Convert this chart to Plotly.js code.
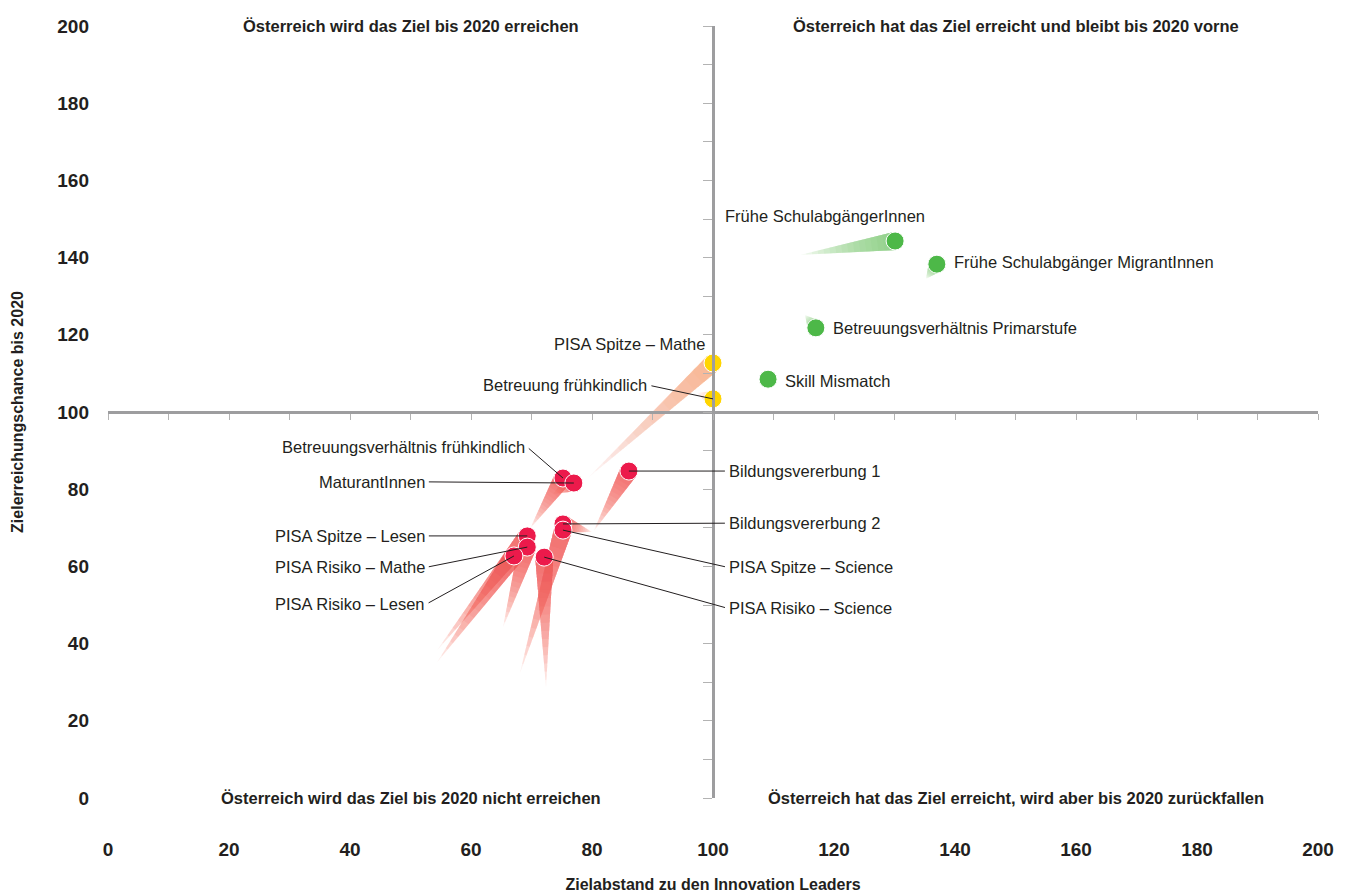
<!DOCTYPE html>
<html><head><meta charset="utf-8">
<script src="https://cdn.plot.ly/plotly-3.0.1.min.js"></script>
<style>html,body{margin:0;padding:0;background:#fff}#chart{width:1350px;height:893px}</style>
</head><body><div id="chart"></div>
<script>
// ---------------- data ----------------
const names = [
  'Frühe SchulabgängerInnen',
  'Frühe Schulabgänger MigrantInnen',
  'Betreuungsverhältnis Primarstufe',
  'Skill Mismatch',
  'PISA Spitze – Mathe',
  'Betreuung frühkindlich',
  'Betreuungsverhältnis frühkindlich',
  'MaturantInnen',
  'Bildungsvererbung 1',
  'Bildungsvererbung 2',
  'PISA Spitze – Science',
  'PISA Spitze – Lesen',
  'PISA Risiko – Mathe',
  'PISA Risiko – Lesen',
  'PISA Risiko – Science'
];
const groups = ['green','green','green','green','yellow','yellow','red','red','red','red','red','red','red','red','red'];
// Zielabstand (x) and Zielerreichungschance (y)
const xVals = [130.1, 137.0, 117.0, 109.1, 100.0, 100.0, 75.2, 77.0, 86.1, 75.2, 75.2, 69.3, 69.3, 67.1, 72.1];
const yVals = [144.3, 138.3, 121.8, 108.5, 112.7, 103.4, 82.9, 81.6, 84.7, 71.0, 69.4, 67.9, 65.0, 62.7, 62.4];
// end of the trend tail of each point
const tailX = [114.4, 135.2, 115.2, null, 79.3, 97.4, 69.8, 73.6, 80.3, 80.0, 68.1, 54.4, 65.3, 54.4, 72.4];
const tailY = [140.7, 134.5, 125.1, null, 82.9, 104.9, 69.9, 78.8, 69.2, 68.9, 32.4, 38.3, 44.3, 35.2, 28.5];
const xTicks = [0, 20, 40, 60, 80, 100, 120, 140, 160, 180, 200];
const yTicks = [0, 20, 40, 60, 80, 100, 120, 140, 160, 180, 200];
const quadrantLabels = [
  'Österreich wird das Ziel bis 2020 erreichen',
  'Österreich hat das Ziel erreicht und bleibt bis 2020 vorne',
  'Österreich wird das Ziel bis 2020 nicht erreichen',
  'Österreich hat das Ziel erreicht, wird aber bis 2020 zurückfallen'
];
const quadrantX = [50, 150, 50, 150];
const quadrantY = [200, 200, 0, 0];
const xTitle = 'Zielabstand zu den Innovation Leaders';
const yTitle = 'Zielerreichungschance bis 2020';

// ---------------- label placement (layout, in axis units) ----------------
const labelPlace = {
  'Frühe SchulabgängerInnen':          {ax:118.5, ay:150.8, anchor:'center', arrow:false},
  'Frühe Schulabgänger MigrantInnen':  {ax:139.5, ay:138.9, anchor:'left',   arrow:false},
  'Betreuungsverhältnis Primarstufe':  {ax:119.5, ay:121.8, anchor:'left',   arrow:false},
  'Skill Mismatch':                    {ax:111.6, ay:108.0, anchor:'left',   arrow:false},
  'PISA Spitze – Mathe':               {ax:99.0,  ay:117.6, anchor:'right',  arrow:false},
  'Betreuung frühkindlich':            {ax:89.5,  ay:106.9, anchor:'right',  arrow:true},
  'Betreuungsverhältnis frühkindlich': {ax:69.3,  ay:90.9,  anchor:'right',  arrow:true},
  'MaturantInnen':                     {ax:52.7,  ay:81.9,  anchor:'right',  arrow:true},
  'Bildungsvererbung 1':               {ax:102.3, ay:84.7,  anchor:'left',   arrow:true},
  'Bildungsvererbung 2':               {ax:102.3, ay:71.2,  anchor:'left',   arrow:true},
  'PISA Spitze – Science':             {ax:102.3, ay:59.8,  anchor:'left',   arrow:true},
  'PISA Spitze – Lesen':               {ax:52.7,  ay:67.9,  anchor:'right',  arrow:true},
  'PISA Risiko – Mathe':               {ax:52.7,  ay:59.8,  anchor:'right',  arrow:true},
  'PISA Risiko – Lesen':               {ax:52.7,  ay:50.3,  anchor:'right',  arrow:true},
  'PISA Risiko – Science':             {ax:102.3, ay:49.2,  anchor:'left',   arrow:true}
};

// ---------------- styles ----------------
const W = 1350, H = 893;
const M = {l:108, r:32, t:26, b:95};
const BOLD = '"Liberation Sans", Arial, Helvetica, sans-serif';
const REG = '"Liberation Sans", Arial, Helvetica, sans-serif';
const TXT = '#231f20';
const pointColor = {green:'#4db848', yellow:'#ffd500', red:'#ec1a4b'};
const tailBase = {green:[77,184,72], yellow:[252,180,70], red:[236,30,70]};
const tailTip  = {green:[160,215,150], yellow:[246,150,140], red:[246,120,100]};
const tailAlpha = {green:0.11, yellow:0.075, red:0.11};
const kx = (W - M.l - M.r) / 200, ky = (H - M.t - M.b) / 200;

const traces = [];
// tails: nested truncated wedges, giving a fade toward the tip
const R = 9, N = 16;
for (let i = 0; i < names.length; i++) {
  if (tailX[i] == null) continue;
  const x0 = xVals[i], y0 = yVals[i];
  const dxp = (tailX[i] - x0) * kx, dyp = (tailY[i] - y0) * ky;
  const L = Math.hypot(dxp, dyp);
  const nx = -dyp / L, ny = dxp / L;
  const g = groups[i];
  const short = L < 40;
  for (let k = 0; k < N; k++) {
    const t = (k + 1) / N;
    const w = R * (1 - t);
    const pts = [[0, R], [t, w], [t, -w], [0, -R]];
    const xs = pts.map(([tt, ww]) => x0 + (dxp * tt + nx * ww) / kx);
    const ys = pts.map(([tt, ww]) => y0 + (dyp * tt + ny * ww) / ky);
    xs.push(xs[0]); ys.push(ys[0]);
    const f = k / (N - 1);
    const c = tailBase[g].map((v, j) => Math.round(v + (tailTip[g][j] - v) * f));
    const a = (g === 'yellow' && short) ? 0.035 : tailAlpha[g];
    traces.push({
      type:'scatter', mode:'lines', x:xs, y:ys, fill:'toself',
      fillcolor:`rgba(${c[0]},${c[1]},${c[2]},${a})`, line:{width:0},
      hoverinfo:'skip', showlegend:false
    });
  }
}
// points
['green','yellow','red'].forEach(g => {
  const idx = names.map((n, i) => i).filter(i => groups[i] === g);
  traces.push({
    type:'scatter', mode:'markers',
    x: idx.map(i => xVals[i]), y: idx.map(i => yVals[i]),
    text: idx.map(i => names[i]),
    marker:{size:18, color:pointColor[g], line:{color:'#ffffff', width:1}},
    hovertemplate:'%{text}<br>%{x}, %{y}<extra></extra>', showlegend:false
  });
});
// dummy trace for the crossing axes
traces.push({type:'scatter', x:[], y:[], xaxis:'x2', yaxis:'y2', showlegend:false, hoverinfo:'skip'});

const annotations = [];
names.forEach((n, i) => {
  const p = labelPlace[n];
  const a = {
    text:n, x:xVals[i], y:yVals[i], xref:'x', yref:'y',
    font:{family:REG, size:16.5, color:TXT}, xanchor:p.anchor, yanchor:'middle'
  };
  if (p.arrow) {
    Object.assign(a, {showarrow:true, axref:'x', ayref:'y', ax:p.ax, ay:p.ay,
      arrowhead:0, arrowwidth:1, arrowcolor:'#231f20', standoff:0, startstandoff:2});
  } else {
    Object.assign(a, {showarrow:false, x:p.ax, y:p.ay});
  }
  annotations.push(a);
});
quadrantLabels.forEach((q, i) => {
  annotations.push({
    text:q, x:quadrantX[i], y:quadrantY[i], xref:'x', yref:'y', showarrow:false,
    xanchor:'center', yanchor:'middle',
    font:{family:BOLD, size:16.5, color:TXT, weight:'bold'}
  });
});

const layout = {
  width:W, height:H, margin:M, paper_bgcolor:'#fff', plot_bgcolor:'#fff',
  showlegend:false, hovermode:'closest',
  xaxis:{range:[0,200], showline:false, showgrid:false, zeroline:false,
    tickvals:xTicks, ticktext:xTicks.map(String), ticks:'', ticklabelstandoff:38,
    tickfont:{family:BOLD, size:19, color:TXT, weight:'bold'},
    title:{text:xTitle, standoff:24, font:{family:BOLD, size:16, color:TXT, weight:'bold'}},
    fixedrange:true},
  yaxis:{range:[0,200], showline:false, showgrid:false, zeroline:false,
    tickvals:yTicks, ticktext:yTicks.map(String), ticks:'', ticklabelstandoff:18,
    tickfont:{family:BOLD, size:19, color:TXT, weight:'bold'},
    title:{text:yTitle, standoff:29, font:{family:BOLD, size:16, color:TXT, weight:'bold'}},
    fixedrange:true},
  xaxis2:{overlaying:'x', anchor:'free', position:0.5, range:[0,200],
    showline:true, linecolor:'#9d9d9f', linewidth:3, ticks:'outside', tick0:0, dtick:10,
    ticklen:6, tickwidth:1, tickcolor:'#b3b3b3', showticklabels:false, showgrid:false, zeroline:false, fixedrange:true},
  yaxis2:{overlaying:'y', anchor:'free', position:0.5, side:'left', range:[0,200],
    showline:true, linecolor:'#9d9d9f', linewidth:3, ticks:'outside', tick0:0, dtick:10,
    ticklen:9, tickwidth:1, tickcolor:'#b3b3b3', showticklabels:false, showgrid:false, zeroline:false, fixedrange:true},
  annotations:annotations
};
Plotly.newPlot('chart', traces, layout, {displayModeBar:false});
</script></body></html>
